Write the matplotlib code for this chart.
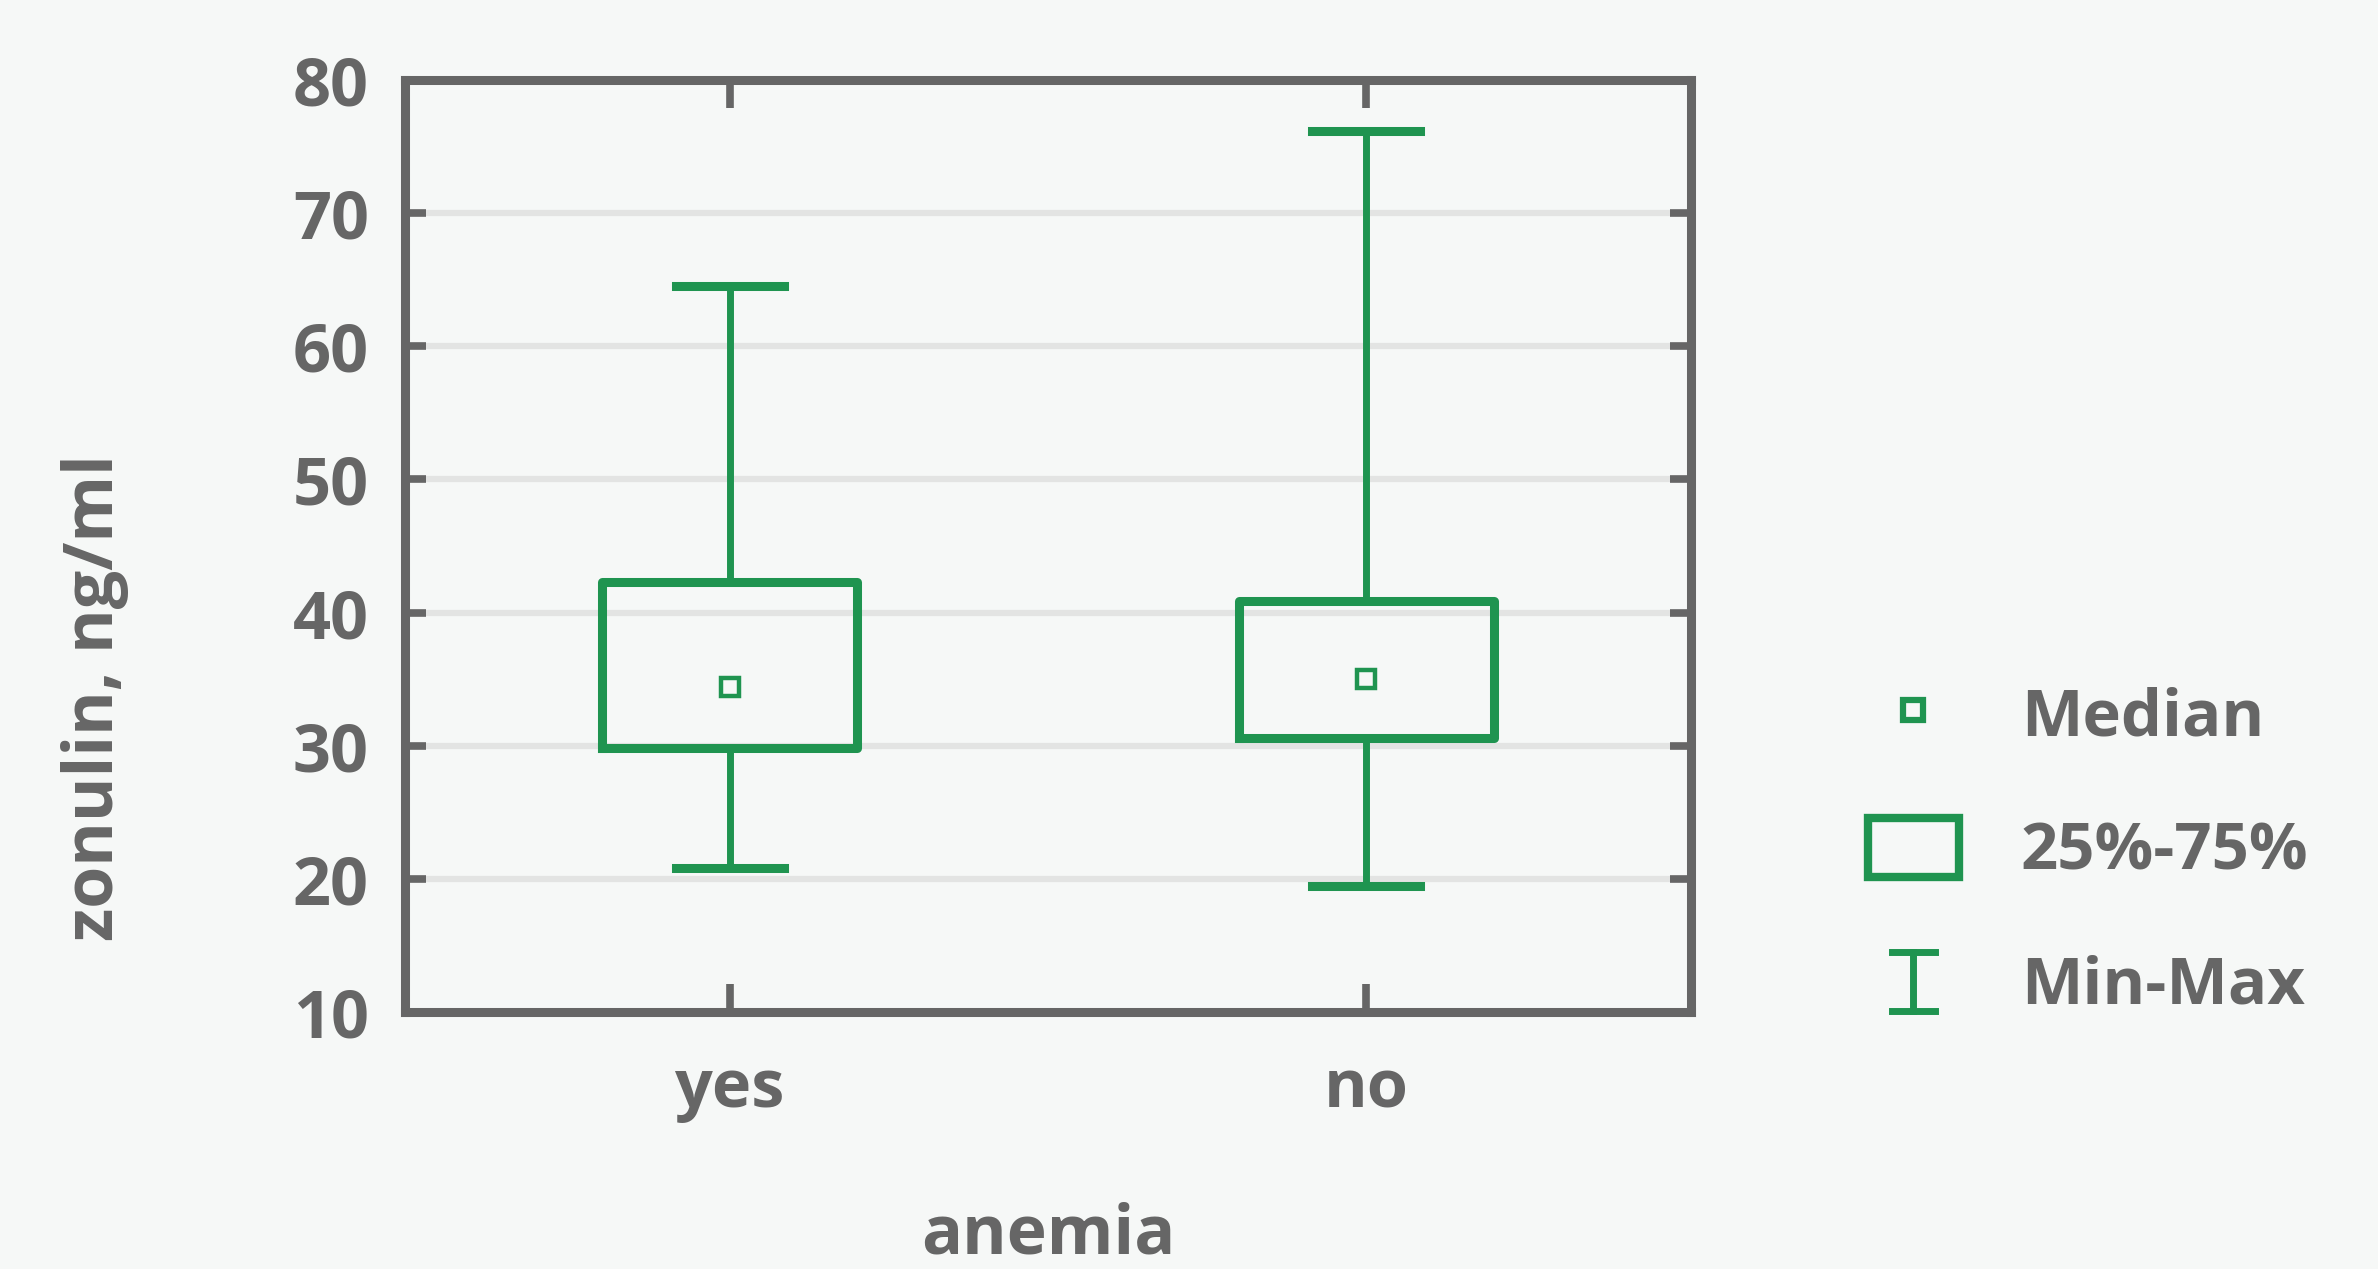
import matplotlib
matplotlib.use('Agg')
import matplotlib.pyplot as plt
from matplotlib.lines import Line2D
from matplotlib.patches import Rectangle
from matplotlib.legend_handler import HandlerBase

# data
groups = ['yes', 'no']
q_min = [20.8, 19.5]
q_25 = [29.8, 30.6]
q_median = [34.4, 35.0]
q_75 = [42.3, 40.9]
q_max = [64.5, 76.2]
y_ticks = [10, 20, 30, 40, 50, 60, 70, 80]

GREEN = '#1f9450'
GRAY = '#666666'
GRID = '#e3e4e3'
BG = '#f6f8f7'

plt.rcParams['font.family'] = ['Open Sans', 'DejaVu Sans']
plt.rcParams['font.weight'] = 'bold'

W, H = 2378, 1269
fig = plt.figure(figsize=(W / 100, H / 100), dpi=100, facecolor=BG)
ax = fig.add_axes([405 / W, 1 - 1012 / H, (1691 - 405) / W, (1012 - 80) / H])
ax.set_facecolor(BG)

positions = [1, 2]
stats = []
for i, g in enumerate(groups):
    stats.append({'label': g, 'whislo': q_min[i], 'q1': q_25[i], 'med': q_median[i],
                  'q3': q_75[i], 'whishi': q_max[i], 'fliers': []})

ax.bxp(stats, positions=positions, widths=0.4, capwidths=0.17, showfliers=False,
       boxprops=dict(color=GREEN, linewidth=6.5),
       whiskerprops=dict(color=GREEN, linewidth=5),
       capprops=dict(color=GREEN, linewidth=6.5),
       medianprops=dict(visible=False), zorder=3)
ax.plot(positions, q_median, 's', ms=13, mfc=BG, mec=GREEN, mew=3.2, ls='none', zorder=4)

ax.set_xlim(0.49, 2.51)
ax.set_ylim(10, 80)
ax.set_yticks(y_ticks)
ax.set_xticks(positions)
ax.set_xticklabels(groups)

for s in ax.spines.values():
    s.set_color(GRAY)
    s.set_linewidth(6.5)
ax.yaxis.grid(True, color=GRID, linewidth=4.5, zorder=0)
ax.set_axisbelow(True)
ax.tick_params(axis='both', direction='in', color=GRAY, width=5.5, top=True, right=True,
               labelcolor=GRAY, labelsize=48)
ax.tick_params(axis='y', length=15, pad=26)
ax.tick_params(axis='x', length=20, pad=32)

ax.set_xlabel('anemia', fontsize=49, color=GRAY, fontweight='bold', labelpad=56)
ax.set_ylabel('zonulin, ng/ml', fontsize=49, color=GRAY, fontweight='bold')
ax.yaxis.set_label_coords(-0.215, 0.337)


class HandlerMinMax(HandlerBase):
    def create_artists(self, legend, orig_handle, xdescent, ydescent, width, height,
                       fontsize, trans):
        cx = width / 2 - xdescent
        cw = width * 0.48
        y0 = -ydescent
        y1 = height - ydescent
        kw = dict(color=GREEN, linewidth=5, transform=trans)
        return [Line2D([cx, cx], [y0, y1], **kw),
                Line2D([cx - cw / 2, cx + cw / 2], [y0, y0], **kw),
                Line2D([cx - cw / 2, cx + cw / 2], [y1, y1], **kw)]


h_med = Line2D([], [], marker='s', ms=14, mfc=BG, mec=GREEN, mew=4.5, ls='none')
h_box = Rectangle((0, 0), 1, 1, facecolor='none', edgecolor=GREEN, linewidth=6)
h_mm = object()
leg = fig.legend([h_med, h_box, h_mm], ['Median', '25%-75%', 'Min-Max'],
                 handler_map={object: HandlerMinMax()},
                 loc='center left', bbox_to_anchor=(1868 / W, 1 - 852 / H),
                 frameon=False, fontsize=47, handlelength=1.39, handleheight=1.0,
                 handletextpad=0.95, labelspacing=1.02, borderpad=0, borderaxespad=0)
for t in leg.get_texts():
    t.set_color(GRAY)

fig.savefig('out.png', dpi=100, facecolor=BG)
